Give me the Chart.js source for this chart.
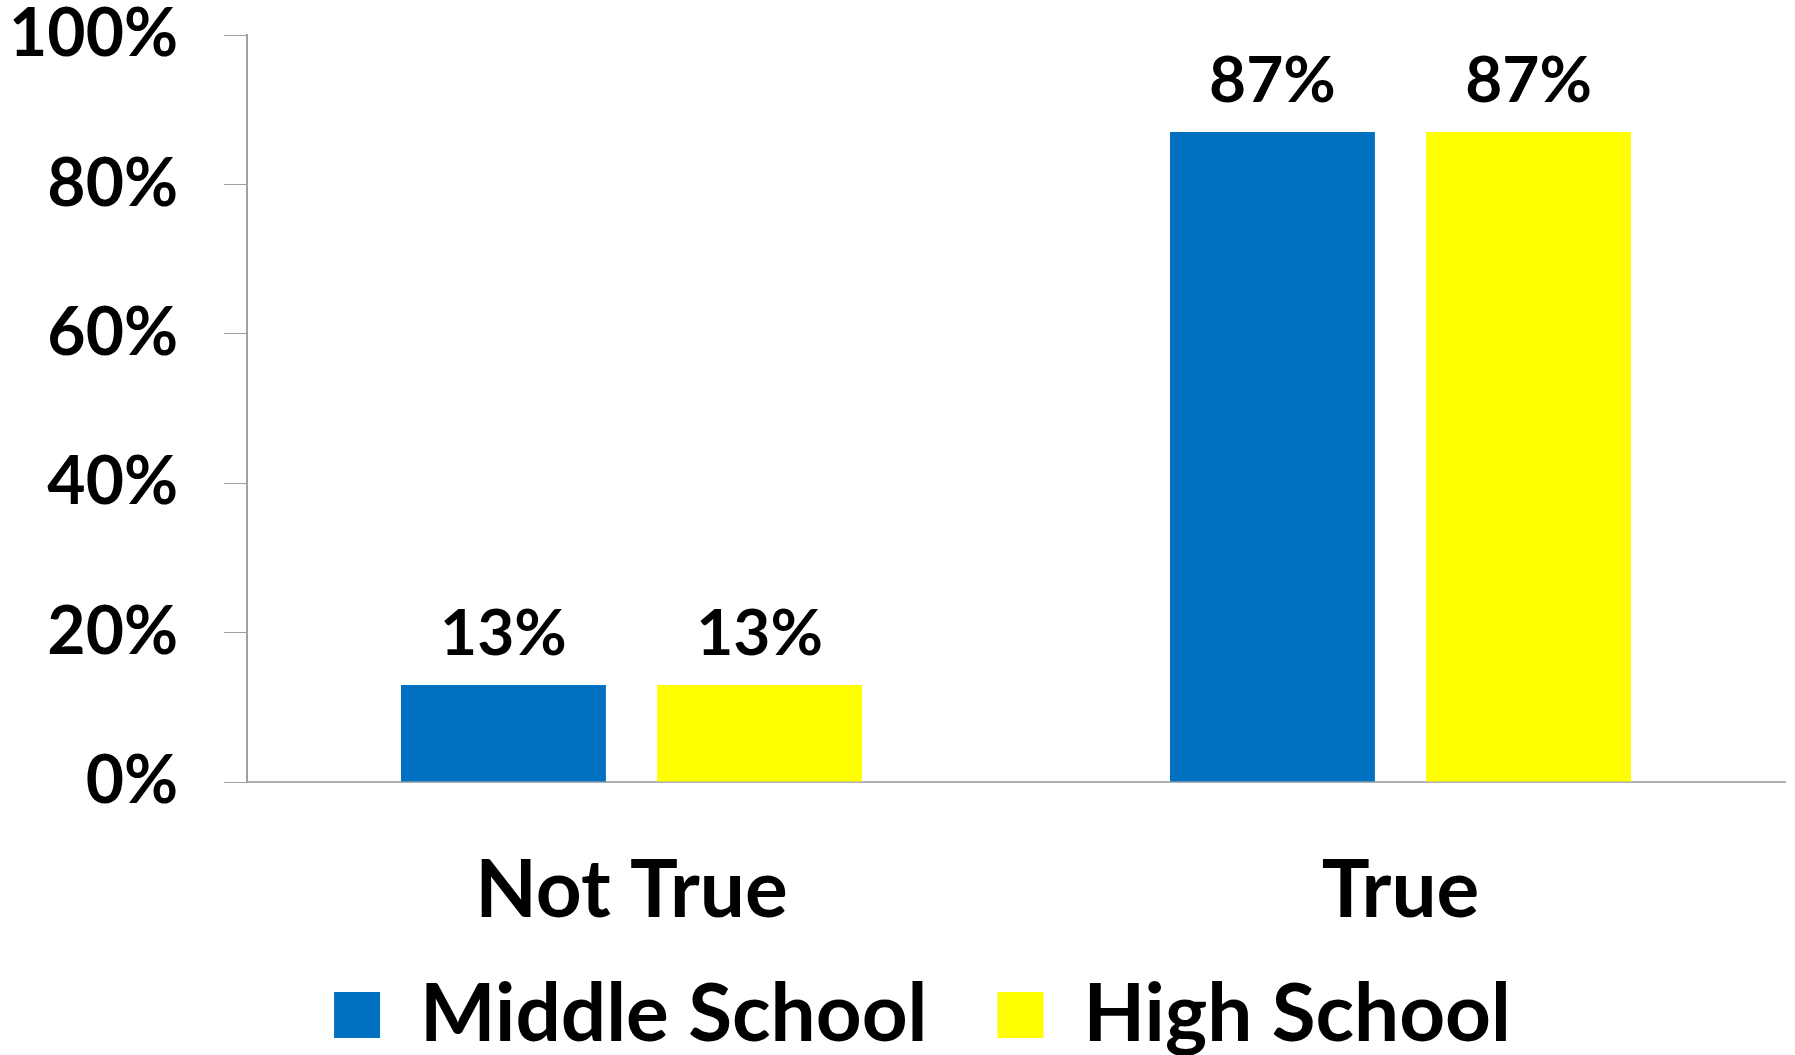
<!DOCTYPE html>
<html>
<head>
<meta charset="utf-8">
<script src="https://cdn.jsdelivr.net/npm/chart.js@4/dist/chart.umd.min.js"></script>
<style>
  html, body { margin: 0; padding: 0; background: #fff; overflow: hidden; }
  #wrap { width: 1795px; height: 1055px; }
</style>
</head>
<body>
<div id="wrap"><canvas id="chart"></canvas></div>
<script>
// answers to the statement
const categories = ['Not True', 'True'];
const middleSchool = [13, 87];
const highSchool = [13, 87];
const yTicks = [0, 20, 40, 60, 80, 100];

const FONT = 'Lato, "Open Sans", sans-serif';

// puts the % value above each bar
const valueLabels = {
  id: 'valueLabels',
  afterDatasetsDraw(chart) {
    const ctx = chart.ctx;
    ctx.save();
    ctx.font = 'bold 64px ' + FONT;
    ctx.fillStyle = '#000';
    ctx.textAlign = 'center';
    ctx.textBaseline = 'bottom';
    chart.data.datasets.forEach((ds, i) => {
      chart.getDatasetMeta(i).data.forEach((bar, j) => {
        ctx.fillText(ds.data[j] + '%', bar.x, bar.y - 19);
      });
    });
    ctx.restore();
  }
};

// legend in the original sits a bit right of centre and closer to the labels
const legendShift = {
  id: 'legendShift',
  afterLayout(chart) {
    const lg = chart.legend;
    lg.left += 30;
    lg.right += 30;
    lg.top -= 42;
    lg.bottom -= 42;
  }
};

new Chart(document.getElementById('chart').getContext('2d'), {
  type: 'bar',
  data: {
    labels: categories,
    datasets: [
      { label: 'Middle School', data: middleSchool, backgroundColor: '#0070C0' },
      { label: 'High School', data: highSchool, backgroundColor: '#FFFF00' }
    ]
  },
  options: {
    responsive: true,
    maintainAspectRatio: false,
    devicePixelRatio: 1,
    animation: false,
    categoryPercentage: 0.666,
    barPercentage: 0.8,
    layout: { padding: { top: 35, right: 10, left: 0, bottom: -52 } },
    plugins: {
      tooltip: { enabled: false },
      legend: {
        position: 'bottom',
        labels: {
          color: '#000',
          font: { family: FONT, size: 80, weight: 'bold' },
          boxWidth: 46,
          boxHeight: 46,
          padding: 70
        }
      }
    },
    scales: {
      x: {
        grid: { display: false },
        border: { color: '#b0b0b0', width: 2 },
        ticks: {
          color: '#000',
          font: { family: FONT, size: 80, weight: 'bold' },
          padding: 53
        },
        afterFit(axis) {
          axis.height = 165;
        }
      },
      y: {
        min: 0,
        max: 100,
        afterBuildTicks(axis) {
          axis.ticks = yTicks.map(v => ({ value: v }));
        },
        afterFit(axis) {
          axis.width = 247;
          axis.paddingTop = 0;
          axis.paddingBottom = 0;
        },
        grid: { drawOnChartArea: false, drawTicks: true, tickLength: 23, color: '#a0a0a0' },
        border: { color: '#a0a0a0', width: 2 },
        ticks: {
          color: '#000',
          font: { family: FONT, size: 66, weight: 'bold' },
          padding: 46,
          callback: v => v + '%'
        }
      }
    }
  },
  plugins: [valueLabels, legendShift]
});
</script>
</body>
</html>
